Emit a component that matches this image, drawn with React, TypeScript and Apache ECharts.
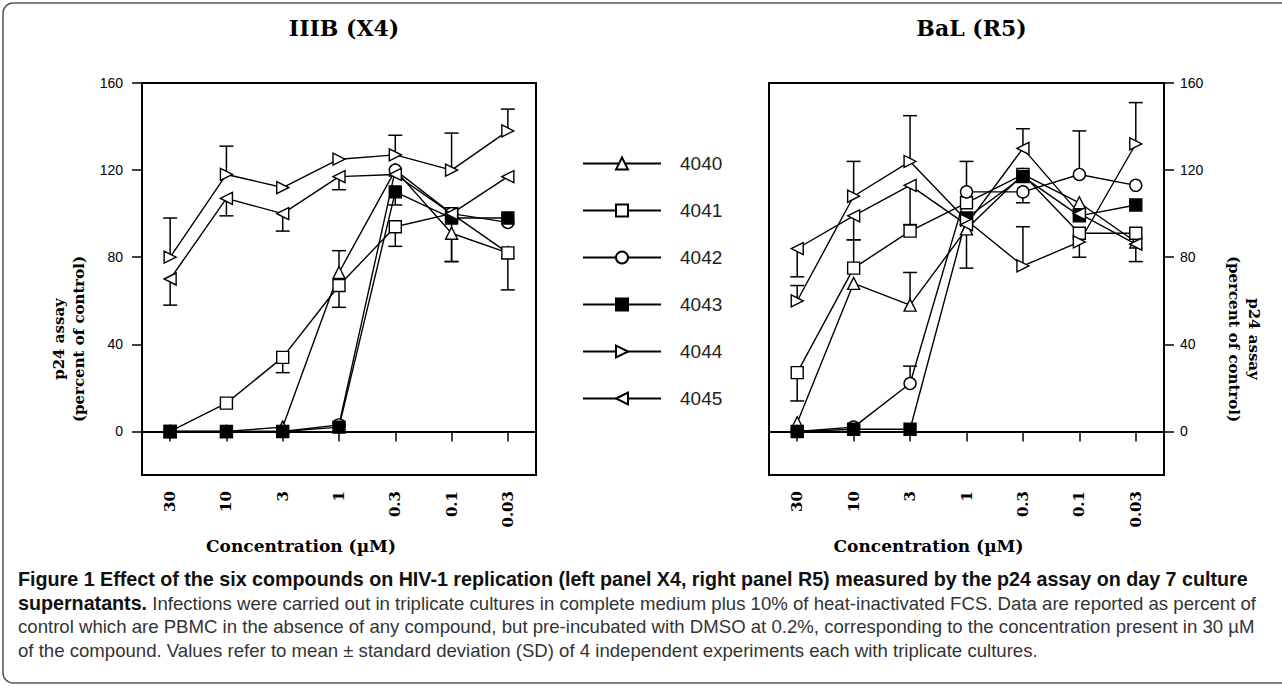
import React, { useEffect, useRef } from 'react';
import * as echarts from 'echarts';

// ---- data ----
const concentrations = ['30', '10', '3', '1', '0.3', '0.1', '0.03'];
const compounds = ['4040', '4041', '4042', '4043', '4044', '4045'];
const yTickValues = [0, 40, 80, 120, 160];

// IIIB (X4) panel: means (percent of control)
const x4_4040 = [0, 0, 2, 73, 120, 91, 82];
const x4_4041 = [0, 13, 34, 67, 94, 100, 82];
const x4_4042 = [0, 0, 0, 3, 120, 100, 96];
const x4_4043 = [0, 0, 0, 2, 110, 98, 98];
const x4_4044 = [80, 118, 112, 125, 127, 120, 138];
const x4_4045 = [70, 107, 100, 117, 118, 100, 117];
// one-sided SD bars (+ up, - down, 0 none)
const x4_4040_sd = [0, 0, 0, 10, 0, -13, 0];
const x4_4041_sd = [0, 0, -7, -10, -9, 0, -17];
const x4_4042_sd = [0, 0, 0, 0, 0, 0, 0];
const x4_4043_sd = [0, 0, 0, 0, -6, 0, 0];
const x4_4044_sd = [18, 13, 0, 0, 9, 17, 10];
const x4_4045_sd = [-12, -8, -8, -6, 0, -22, 0];

// BaL (R5) panel
const r5_4040 = [4, 68, 58, 93, 118, 105, 87];
const r5_4041 = [27, 75, 92, 105, 118, 91, 91];
const r5_4042 = [0, 2, 22, 110, 110, 118, 113];
const r5_4043 = [0, 1, 1, 98, 117, 99, 104];
const r5_4044 = [60, 108, 124, 97, 76, 87, 132];
const r5_4045 = [84, 99, 113, 95, 130, 100, 86];
const r5_4040_sd = [0, 0, 15, -18, 0, 0, -9];
const r5_4041_sd = [-13, 13, 0, 0, 0, 0, 0];
const r5_4042_sd = [0, 0, 8, 14, -5, 20, 0];
const r5_4043_sd = [0, 0, 0, 0, 0, 0, 0];
const r5_4044_sd = [7, 16, 21, 0, 18, -7, 19];
const r5_4045_sd = [-13, -11, -18, 0, 9, 0, 0];

const panelTitles = ['IIIB (X4)', 'BaL (R5)'];
const xAxisName = 'Concentration (\u00b5M)';
const yAxisName = 'p24 assay\n(percent of control)';

const captionLines = [
  'Figure 1 Effect of the six compounds on HIV-1 replication (left panel X4, right panel R5) measured by the p24 assay on day 7 culture',
  'supernatants.',
  ' Infections were carried out in triplicate cultures in complete medium plus 10% of heat-inactivated FCS. Data are reported as percent of',
  'control which are PBMC in the absence of any compound, but pre-incubated with DMSO at 0.2%, corresponding to the concentration present in 30 \u00b5M',
  'of the compound. Values refer to mean \u00b1 standard deviation (SD) of 4 independent experiments each with triplicate cultures.',
];

const panelValues = [
  [x4_4040, x4_4041, x4_4042, x4_4043, x4_4044, x4_4045],
  [r5_4040, r5_4041, r5_4042, r5_4043, r5_4044, r5_4045],
];
const panelSds = [
  [x4_4040_sd, x4_4041_sd, x4_4042_sd, x4_4043_sd, x4_4044_sd, x4_4045_sd],
  [r5_4040_sd, r5_4041_sd, r5_4042_sd, r5_4043_sd, r5_4044_sd, r5_4045_sd],
];

// ---- styles ----
const SERIF = 'DejaVu Serif';
const SANS = 'Liberation Sans';
const markerStyles: Record<string, { symbol: string; rotate: number; fill: string; size: number }> = {
  '4040': { symbol: 'triangle', rotate: 0, fill: '#fff', size: 12 },
  '4041': { symbol: 'rect', rotate: 0, fill: '#fff', size: 12 },
  '4042': { symbol: 'circle', rotate: 0, fill: '#fff', size: 12 },
  '4043': { symbol: 'rect', rotate: 0, fill: '#000', size: 12 },
  '4044': { symbol: 'triangle', rotate: -90, fill: '#fff', size: 12 },
  '4045': { symbol: 'triangle', rotate: 90, fill: '#fff', size: 12 },
};

const grids = [
  { left: 142, top: 83, width: 394, height: 392 },
  { left: 769, top: 83, width: 395, height: 392 },
];

function buildOption() {
  const series: any[] = [];
  panelValues.forEach((vals, pi) => {
    const errData: number[][] = [];
    vals.forEach((arr, ci) => {
      panelSds[pi][ci].forEach((sd, i) => {
        if (sd !== 0) errData.push([i, arr[i], sd]);
      });
    });
    series.push({
      type: 'custom',
      name: 'sd' + pi,
      xAxisIndex: pi,
      yAxisIndex: pi,
      z: 1,
      silent: true,
      data: errData,
      renderItem: (params: any, api: any) => {
        const x = api.value(0);
        const y = api.value(1);
        const e = api.value(2);
        const p0 = api.coord([x, y]);
        const p1 = api.coord([x, y + e]);
        const hw = 7;
        return {
          type: 'group',
          children: [
            { type: 'line', shape: { x1: p0[0], y1: p0[1], x2: p1[0], y2: p1[1] }, style: { stroke: '#000', lineWidth: 1.5 } },
            { type: 'line', shape: { x1: p1[0] - hw, y1: p1[1], x2: p1[0] + hw, y2: p1[1] }, style: { stroke: '#000', lineWidth: 1.5 } },
          ],
        };
      },
    });
    vals.forEach((arr, ci) => {
      const name = compounds[ci];
      const m = markerStyles[name];
      series.push({
        type: 'line',
        name,
        xAxisIndex: pi,
        yAxisIndex: pi,
        data: arr,
        z: 3,
        symbol: m.symbol,
        symbolSize: m.size,
        symbolRotate: m.rotate,
        showAllSymbol: true,
        lineStyle: { color: '#000', width: 1.4 },
        itemStyle: { color: m.fill, borderColor: '#000', borderWidth: 1.4 },
        emphasis: { disabled: true },
      });
    });
  });

  const xAxes = grids.map((_, gi) => ({
    type: 'category',
    gridIndex: gi,
    data: concentrations,
    boundaryGap: true,
    axisLine: { show: true, lineStyle: { color: '#000', width: 2 } },
    axisTick: { show: true, alignWithLabel: true, length: 10, lineStyle: { color: '#000', width: 1.5 } },
    axisLabel: { rotate: 90, margin: 16, color: '#000', fontFamily: SERIF, fontWeight: 'bold', fontSize: 15 },
    splitLine: { show: false },
    name: xAxisName,
    nameLocation: 'middle',
    nameGap: 62,
    nameTextStyle: { fontFamily: SERIF, fontWeight: 'bold', fontSize: 17, color: '#000', padding: [0, 76, 0, 0] },
  }));

  const yAxes = grids.map((_, gi) => ({
    type: 'value',
    gridIndex: gi,
    position: gi === 0 ? 'left' : 'right',
    min: -20,
    max: 160,
    axisLine: { show: true, lineStyle: { color: '#000', width: 2 } },
    axisTick: { show: true, length: 10, customValues: yTickValues, lineStyle: { color: '#000', width: 1.5 } },
    axisLabel: { customValues: yTickValues, margin: gi === 0 ? 19 : 16, color: '#000', fontFamily: SANS, fontSize: 14 },
    splitLine: { show: false },
    name: yAxisName,
    nameLocation: 'middle',
    nameRotate: gi === 0 ? 90 : -90,
    nameGap: gi === 0 ? 53 : 60,
    nameTextStyle: {
      fontFamily: SERIF,
      fontWeight: 'bold',
      fontSize: 15,
      lineHeight: 20,
      color: '#000',
      align: 'center',
      padding: gi === 0 ? [0, 120, 0, 0] : [0, 0, 0, 120],
    },
  }));

  return {
    animation: false,
    backgroundColor: '#fff',
    title: panelTitles.map((t, i) => ({
      text: t,
      left: grids[i].left + grids[i].width / 2,
      top: 12,
      textAlign: 'center',
      textStyle: { fontFamily: SERIF, fontWeight: 'bold', fontSize: 22, color: '#000' },
    })),
    legend: {
      data: compounds,
      orient: 'vertical',
      left: 577,
      top: 149,
      itemWidth: 78,
      itemHeight: 15,
      itemGap: 28,
      selectedMode: false,
      textStyle: { fontFamily: SANS, fontSize: 19, color: '#222', padding: [0, 0, 0, 14] },
    },
    grid: grids.map((g) => ({ ...g, show: true, borderColor: '#000', borderWidth: 2, backgroundColor: 'transparent', containLabel: false })),
    xAxis: xAxes,
    yAxis: yAxes,
    series,
    graphic: [
      {
        type: 'rect',
        shape: { x: 3, y: 3, width: 1300, height: 680, r: 10 },
        style: { fill: 'none', stroke: '#555', lineWidth: 1.5 },
        silent: true,
      },
      {
        type: 'text',
        left: 18,
        top: 569,
        style: { text: captionLines[0], fontFamily: SANS, fontWeight: 'bold', fontSize: 19.7, fill: '#111' },
      },
      {
        type: 'text',
        left: 18,
        top: 593,
        style: {
          text: '{b|' + captionLines[1] + '}{r|' + captionLines[2] + '}',
          rich: {
            b: { fontFamily: SANS, fontWeight: 'bold', fontSize: 19.7, fill: '#111' },
            r: { fontFamily: SANS, fontSize: 18.6, fill: '#333' },
          },
        },
      },
      {
        type: 'text',
        left: 18,
        top: 617,
        style: { text: captionLines[3], fontFamily: SANS, fontSize: 18.6, fill: '#333' },
      },
      {
        type: 'text',
        left: 18,
        top: 641,
        style: { text: captionLines[4], fontFamily: SANS, fontSize: 18.6, fill: '#333' },
      },
    ],
  };
}

export default function App() {
  const ref = useRef<HTMLDivElement>(null);
  useEffect(() => {
    document.body.style.margin = '0';
    if (!ref.current) return;
    const chart = echarts.init(ref.current, undefined, { renderer: 'svg' });
    chart.setOption(buildOption() as any);
    return () => chart.dispose();
  }, []);
  return <div ref={ref} style={{ width: 1282, height: 686 }} />;
}
